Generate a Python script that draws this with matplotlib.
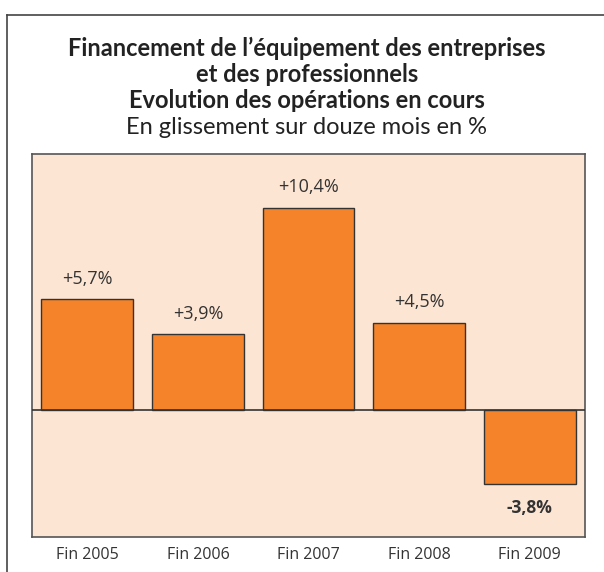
import matplotlib.pyplot as plt
from matplotlib.lines import Line2D

annees = ["Fin 2005", "Fin 2006", "Fin 2007", "Fin 2008", "Fin 2009"]
valeurs = [5.7, 3.9, 10.4, 4.5, -3.8]
etiquettes = ["+5,7%", "+3,9%", "+10,4%", "+4,5%", "-3,8%"]

W, H = 604, 572
fig = plt.figure(figsize=(W / 100, H / 100), dpi=100)
fig.patch.set_facecolor("white")

# cadre exterieur (ouvert a droite et en bas)
fig.add_artist(Line2D([7 / W, 7 / W], [0, 1 - 15 / H], color="#444444", lw=1.2))
fig.add_artist(Line2D([7 / W, 1], [1 - 15 / H, 1 - 15 / H], color="#444444", lw=1.2))

ax = fig.add_axes([32 / W, 1 - 537 / H, (585 - 32) / W, (537 - 154) / H])
ax.set_facecolor("#FDE5D3")
for s in ax.spines.values():
    s.set_color("#555555")
    s.set_linewidth(1.2)

x = range(len(valeurs))
ax.bar(x, valeurs, width=0.83, color="#F5832A", edgecolor="#333333", linewidth=1, zorder=2)
ax.axhline(0, color="#333333", lw=1.2, zorder=3)
ax.set_xlim(-0.5, 4.5)
ax.set_ylim(-6.5, 13.15)
ax.set_xticks([])
ax.set_yticks([])

for i, v in enumerate(valeurs):
    if v >= 0:
        ax.text(i, v + 0.6, etiquettes[i], ha="center", va="bottom", fontsize=13,
                color="#333333", family="Open Sans")
    else:
        ax.text(i, v - 0.75, etiquettes[i], ha="center", va="top", fontsize=12.5,
                color="#333333", family="Open Sans", weight="bold")

for i, a in enumerate(annees):
    fig.text((32 + 110.6 * (i + 0.5)) / W, 1 - 555 / H, a, ha="center", va="center",
             fontsize=11.5, color="#333333", family="Open Sans")

cx = 307 / W
fig.text(cx, 1 - 48 / H, "Financement de l\u2019équipement des entreprises", ha="center",
         va="center", fontsize=17, weight="bold", color="#222222", family="Lato")
fig.text(cx, 1 - 75 / H, "et des professionnels", ha="center", va="center",
         fontsize=17, weight="bold", color="#222222", family="Lato")
fig.text(cx, 1 - 101 / H, "Evolution des opérations en cours", ha="center", va="center",
         fontsize=17, weight="bold", color="#222222", family="Lato")
fig.text(cx, 1 - 127 / H, "En glissement sur douze mois en %", ha="center", va="center",
         fontsize=17, color="#222222", family="Lato")

plt.savefig("out.png", dpi=100)
